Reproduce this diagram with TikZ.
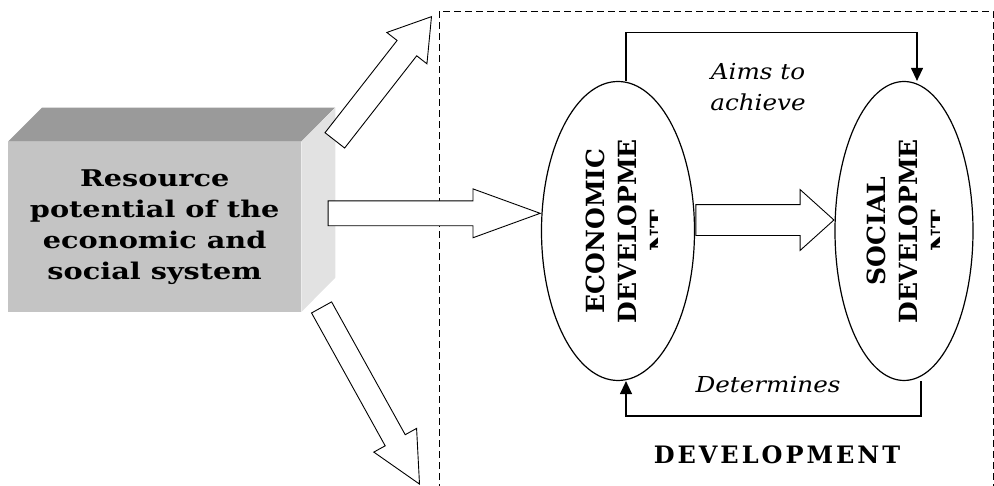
\documentclass[tikz,border=0pt]{standalone}
\usepackage{fontspec}
\setmainfont{DejaVu Serif}
\newfontfamily\wideserif[FakeStretch=1.25]{DejaVu Serif}
\newfontfamily\noteserif[FakeStretch=1.12]{DejaVu Serif}
\usepackage{xcolor}
\usepackage{tikz}
\usetikzlibrary{shapes.geometric,shapes.arrows,arrows.meta}

\definecolor{boxfront}{HTML}{C4C4C4}
\definecolor{boxtop}{HTML}{9A9A9A}
\definecolor{boxside}{HTML}{E2E2E2}

\begin{document}
\begin{tikzpicture}[
    x=1pt, y=1pt,
    resbox/.style={rectangle, fill=boxfront, minimum width=293pt, minimum height=170pt, inner sep=0pt, align=center, font=\wideserif\fontsize{23}{31}\selectfont\bfseries},
    devellipse/.style={ellipse, draw, line width=1.2pt, minimum height=299pt, inner sep=0pt},
    ellipsetext/.style={rotate=90, align=center, font=\fontsize{25}{32}\selectfont\bfseries},
    blockarrow/.style={single arrow, draw, fill=white, line width=0.9pt, inner xsep=0pt, minimum width=0pt, single arrow head indent=0pt, anchor=tip},
    link/.style={line width=1.2pt, -{Triangle[width=12pt,length=13pt]}},
    note/.style={align=center, font=\noteserif\fontsize{22}{31}\selectfont\itshape}
]
\useasboundingbox (0,0) rectangle (994,486);

% Resource box (front face, then top and side)
\node[resbox, anchor=south west] (res) at (8,174) {Resource\\potential of the\\economic and\\social system};
\fill[boxtop] (res.north west) -- ++(34,34) -- ++(293,0) -- (res.north east) -- cycle;
\fill[boxside] (res.north east) -- ++(34,34) -- ++(0,-170) -- (res.south east) -- cycle;

% Development frame
\draw[dash pattern=on 7pt off 4pt, line width=0.9pt] (439,-5) -- (439,475) -- (993,475) -- (993,-5);

% Ellipses
\node[devellipse, minimum width=153pt] (econ) at (618,255) {};
\node[devellipse, minimum width=138pt] (social) at (904,255) {};

\begin{scope}
    \clip (540,100) rectangle (657,410);
    \node[ellipsetext] (econtext) at ([xshift=9pt]econ.center) {ECONOMIC\\DEVELOPME\\NT};
\end{scope}
\begin{scope}
    \clip (840,100) rectangle (939,410);
    \node[ellipsetext] (socialtext) at ([xshift=4pt]social.center) {SOCIAL\\DEVELOPME\\NT};
\end{scope}

% Block arrows
\coordinate (upTip) at (432,470);
\coordinate (downTip) at (420,1);
\node[blockarrow, rotate=52, minimum height=157pt, inner ysep=12pt, single arrow head extend=13pt, single arrow tip angle=65] (toUp) at (upTip) {};
\node[blockarrow, rotate=-61, minimum height=202pt, inner ysep=11pt, single arrow head extend=13pt, single arrow tip angle=52] (toDown) at (downTip) {};
\node[blockarrow, minimum height=212pt, inner ysep=12pt, single arrow head extend=12pt, single arrow tip angle=40] (toEcon) at (econ.167) {};
\node[blockarrow, minimum height=138pt, inner ysep=15pt, single arrow head extend=15pt, single arrow tip angle=84] (toSocial) at (social.171) {};

% Feedback links
\draw[link] ([xshift=8pt]econ.north) -- ++(0,48) -| ([xshift=13pt]social.north);
\draw[link] ([xshift=17pt]social.south) -- ++(0,-35) -| ([xshift=8pt]econ.south);

\node[note] (aims) at (758,399) {Aims to\\achieve};
\node[note] (determines) at (768,101) {Determines};
\node[font=\fontsize{24}{28}\selectfont\bfseries] (devlabel) at (777,31) {D\kern3pt E\kern3pt V\kern3pt E\kern3pt L\kern3pt O\kern3pt P\kern3pt M\kern3pt E\kern3pt N\kern3pt T};

\end{tikzpicture}
\end{document}
